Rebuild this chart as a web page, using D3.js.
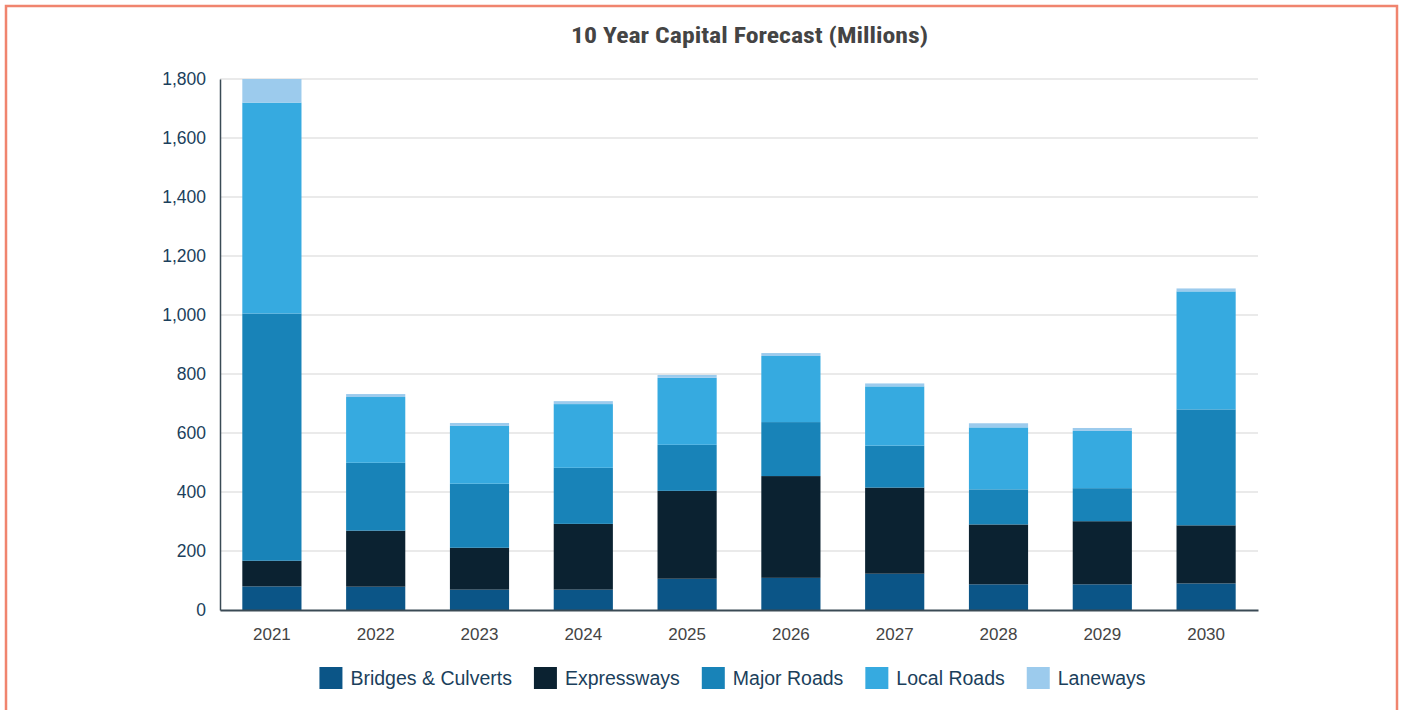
<!DOCTYPE html>
<html>
<head>
<meta charset="utf-8">
<script src="https://cdn.jsdelivr.net/npm/d3@7"></script>
<style>
  html, body { margin: 0; padding: 0; background: #ffffff; }
  svg { display: block; }
</style>
</head>
<body>
<svg id="chart" width="1403" height="710"></svg>
<script>
// Capital forecast by asset class, in millions of dollars
const years = ["2021", "2022", "2023", "2024", "2025", "2026", "2027", "2028", "2029", "2030"];
const seriesNames = ["Bridges & Culverts", "Expressways", "Major Roads", "Local Roads", "Laneways"];
const bridgesCulverts = [80, 79, 69, 69, 106, 109, 123, 87, 87, 90];
const expressways     = [87, 190, 142, 223, 298, 345, 292, 203, 214, 197];
const majorRoads      = [838, 230, 217, 190, 156, 183, 142, 119, 112, 393];
const localRoads      = [715, 223, 196, 216, 227, 224, 201, 210, 194, 400];
const laneways        = [80, 10, 10, 10, 10, 10, 10, 14, 10, 10];
const yTicks = [0, 200, 400, 600, 800, 1000, 1200, 1400, 1600, 1800];
const colors = ["#0b5587", "#0b2231", "#1883b8", "#36aae0", "#9ccbed"];

const seriesValues = [bridgesCulverts, expressways, majorRoads, localRoads, laneways];
const rows = years.map((y, i) => {
  const r = { year: y };
  seriesNames.forEach((s, k) => { r[s] = seriesValues[k][i]; });
  return r;
});

const svg = d3.select("#chart");
const navy = "#1b3f5c";
const font = "'Liberation Sans', Arial, sans-serif";

// Frame
svg.append("rect")
  .attr("x", 6).attr("y", 6)
  .attr("width", 1391).attr("height", 720)
  .attr("fill", "none")
  .attr("stroke", "#f0846e")
  .attr("stroke-width", 2.5);

// Title
svg.append("text")
  .attr("x", 749.5).attr("y", 43)
  .attr("text-anchor", "middle")
  .attr("font-family", "'Liberation Sans Narrow', 'Roboto Condensed', Roboto, sans-serif")
  .attr("font-weight", 700)
  .attr("font-size", 22)
  .attr("textLength", 357)
  .attr("lengthAdjust", "spacingAndGlyphs")
  .attr("fill", "#444444")
  .text("10 Year Capital Forecast (Millions)");

const x = d3.scaleBand().domain(years).range([220, 1258]).paddingInner(0.43).paddingOuter(0.215);
const y = d3.scaleLinear().domain([0, 1800]).range([610, 79]);

// Gridlines
svg.append("g")
  .selectAll("line")
  .data(yTicks.filter(t => t > 0))
  .join("line")
  .attr("x1", 220).attr("x2", 1258)
  .attr("y1", d => y(d)).attr("y2", d => y(d))
  .attr("stroke", "#d6d6d6")
  .attr("stroke-width", 1.2);

// Stacked bars
const stack = d3.stack().keys(seriesNames)(rows);
svg.append("g")
  .selectAll("g")
  .data(stack)
  .join("g")
  .attr("fill", (d, i) => colors[i])
  .selectAll("rect")
  .data(d => d)
  .join("rect")
  .attr("x", d => x(d.data.year))
  .attr("width", x.bandwidth())
  .attr("y", d => y(d[1]))
  .attr("height", d => y(d[0]) - y(d[1]));

// Y axis
const yAxis = svg.append("g")
  .attr("transform", "translate(220,0)")
  .call(d3.axisLeft(y).tickValues(yTicks).tickSize(0).tickPadding(14).tickFormat(d3.format(",")));
yAxis.select(".domain").attr("stroke", "#3a4a55").attr("stroke-width", 1.5);
yAxis.selectAll("text")
  .attr("font-family", font)
  .attr("font-size", 17.5)
  .attr("fill", navy);

// X axis
const xAxis = svg.append("g")
  .attr("transform", "translate(0,610)")
  .call(d3.axisBottom(x).tickSize(0).tickPadding(18));
xAxis.select(".domain").attr("stroke", "#3a4a55").attr("stroke-width", 1.8);
xAxis.selectAll("text")
  .attr("font-family", font)
  .attr("font-size", 17)
  .attr("fill", "#444444");

// Legend
const legend = svg.append("g");
const items = legend.selectAll("g")
  .data(seriesNames)
  .join("g");
items.append("rect")
  .attr("width", 23).attr("height", 22)
  .attr("y", -11)
  .attr("fill", (d, i) => colors[i]);
items.append("text")
  .attr("x", 31)
  .attr("dy", "0.35em")
  .attr("font-family", font)
  .attr("font-size", 19.5)
  .attr("fill", navy)
  .text(d => d);
let cursor = 0;
items.each(function () {
  const g = d3.select(this);
  g.attr("transform", `translate(${cursor},0)`);
  const w = 31 + g.select("text").node().getComputedTextLength();
  cursor += w + 22;
});
const legendWidth = cursor - 22;
legend.attr("transform", `translate(${732.5 - legendWidth / 2},678)`);
</script>
</body>
</html>
